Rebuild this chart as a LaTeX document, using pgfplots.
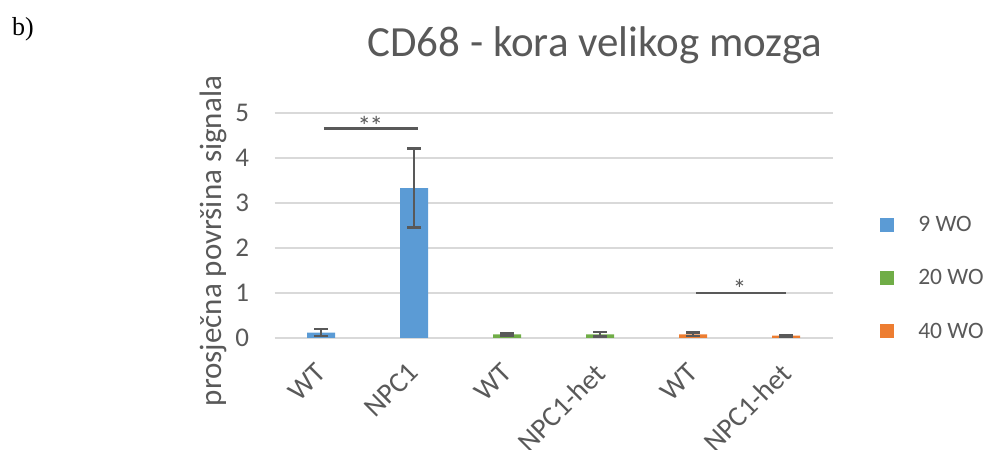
\documentclass[border=0pt]{standalone}
\usepackage{pgfplots}
\pgfplotsset{compat=1.18}
\usepackage{fontspec}
\setmainfont{Carlito}
\newfontfamily\seriffont{Liberation Serif}
\definecolor{cblue}{HTML}{5B9BD5}
\definecolor{cgreen}{HTML}{70AD47}
\definecolor{corange}{HTML}{ED7D31}
\definecolor{tgray}{HTML}{595959}
\definecolor{ggray}{HTML}{D9D9D9}
\begin{document}
\begin{tikzpicture}[x=1bp,y=1bp]
\useasboundingbox (0,0) rectangle (993,450);
\node[font=\seriffont\fontsize{26bp}{30bp}\selectfont, anchor=center] at (23,421) {b)};
\node[font=\fontsize{43bp}{48bp}\selectfont, text=tgray, anchor=center] at (595,405) {CD68 - kora velikog mozga};
\node[font=\fontsize{31bp}{35bp}\selectfont, text=tgray, rotate=90, anchor=center] at (213,209) {prosječna površina signala};
\begin{axis}[
  at={(274.5bp,112bp)}, anchor=south west,
  scale only axis, width=558bp, height=225bp,
  xmin=-0.5, xmax=5.5, ymin=0, ymax=5,
  axis line style={draw=none},
  ymajorgrids, grid style={ggray, line width=1.5bp},
  ytick={0,1,2,3,4,5},
  xtick={0,1,2,3,4,5},
  xticklabels={WT,NPC1,WT,NPC1-het,WT,NPC1-het},
  major tick length=0pt,
  /pgf/number format/assume math mode=true,
  yticklabel style={font=\fontsize{27bp}{31bp}\selectfont, text=tgray, xshift=-22bp},
  xticklabel style={font=\fontsize{28.5bp}{33bp}\selectfont, text=tgray, rotate=45, anchor=north east, yshift=-8bp, xshift=-18bp},
  clip=false,
  legend style={at={(1,0.5)}, anchor=west, xshift=47.5bp, yshift=-52.5bp, draw=none, fill=none,
    font=\fontsize{23.5bp}{27bp}\selectfont, text=tgray, inner sep=0pt, row sep=32.5bp},
  legend cell align=left,
  legend image code/.code={\fill[#1] (0bp,-7bp) rectangle (14bp,7bp); \path[draw=none,fill=none] (36bp,0bp) circle (0.1bp);},
  error bars/error bar style={tgray, line width=2.5bp},
  error bars/error mark options={tgray, rotate=90, mark size=7bp, line width=2.5bp},
]
\addplot[ybar, bar width=28bp, bar shift=0pt, fill=cblue, draw=none,
  error bars/.cd, y dir=both, y explicit]
  coordinates {(0,0.12) +- (0,0.08) (1,3.33) +- (0,0.88)};
\addlegendentry{9 WO}
\addplot[ybar, bar width=28bp, bar shift=0pt, fill=cgreen, draw=none,
  error bars/.cd, y dir=both, y explicit]
  coordinates {(2,0.08) +- (0,0.02) (3,0.08) +- (0,0.05)};
\addlegendentry{20 WO}
\addplot[ybar, bar width=28bp, bar shift=0pt, fill=corange, draw=none,
  error bars/.cd, y dir=both, y explicit]
  coordinates {(4,0.08) +- (0,0.04) (5,0.05) +- (0,0.015)};
\addlegendentry{40 WO}
\addplot[forget plot, sharp plot, no marks, tgray, line width=2.5bp] coordinates {(0.03,4.65) (1.04,4.65)};
\addplot[forget plot, sharp plot, no marks, tgray, line width=2.5bp] coordinates {(4.03,1.0) (5.0,1.0)};
\node[font=\fontsize{27bp}{30bp}\selectfont, text=tgray] at (axis cs:0.53,4.72) {*\kern-1.5bp*};
\node[font=\fontsize{27bp}{30bp}\selectfont, text=tgray] at (axis cs:4.5,1.1) {*};
\end{axis}
\end{tikzpicture}
\end{document}
